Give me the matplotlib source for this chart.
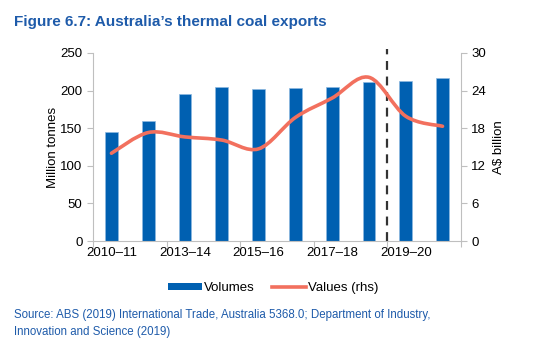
import numpy as np
import matplotlib
matplotlib.use("Agg")
import matplotlib.pyplot as plt
from matplotlib.path import Path
from matplotlib.patches import PathPatch
from matplotlib.lines import Line2D
from matplotlib.patches import Patch

plt.rcParams["font.family"] = ["Liberation Sans", "DejaVu Sans"]

# --- Data ---
years = ["2010–11", "2011–12", "2012–13", "2013–14", "2014–15",
         "2015–16", "2016–17", "2017–18", "2018–19", "2019–20"]
tick_labels = ["2010–11", "2013–14", "2015–16", "2017–18", "2019–20"]
volumes = [145, 160, 196, 205, 202, 203, 204, 211, 212, 216]   # Mt, lhs
values = [14.0, 17.3, 16.6, 16.1, 14.7, 19.7, 22.8, 26.1, 19.9, 18.3]  # A$b, rhs

BLUE = "#0060B1"
SALMON = "#F2705E"
GREY = "#BFBFBF"
TITLE_BLUE = "#1E5BAA"


def smooth_path(x, y):
    # Excel-style smoothed line: Catmull-Rom expressed as cubic Beziers
    pts = np.column_stack([x, y]).astype(float)
    verts = [pts[0]]
    codes = [Path.MOVETO]
    n = len(pts)
    for i in range(n - 1):
        p0 = pts[i - 1] if i > 0 else pts[i]
        p1, p2 = pts[i], pts[i + 1]
        p3 = pts[i + 2] if i + 2 < n else pts[i + 1]
        verts += [p1 + (p2 - p0) / 6, p2 - (p3 - p1) / 6, p2]
        codes += [Path.CURVE4] * 3
    return Path(verts, codes)


fig = plt.figure(figsize=(5.41, 3.41), dpi=100)
ax = fig.add_axes([0.172, 0.293, 0.68, 0.552])
ax2 = ax.twinx()

x = np.arange(len(years))
ax.bar(x, volumes, width=0.35, color=BLUE, edgecolor="#8DB8E0", linewidth=0.5, zorder=2)

ax2.add_patch(PathPatch(smooth_path(x, values), facecolor="none",
                        edgecolor=SALMON, linewidth=2.6, capstyle="round", zorder=3))

ax.set_xlim(-0.5, len(years) - 0.5)
ax.set_ylim(0, 250)
ax.set_yticks(range(0, 251, 50))
ax2.set_ylim(0, 30)
ax2.set_yticks(range(0, 31, 6))

# forecast divider
ax.axvline(7.5, ymin=0, ymax=1.02, color="#333333", linestyle=(0, (4, 3)),
           linewidth=1.6, clip_on=False, zorder=4)

# x ticks: marks every two categories, labels under every other bar
ax.set_xticks(np.arange(-0.5, len(years), 2))
ax.set_xticklabels([])
ax.set_xticks(x[::2], minor=True)
ax.set_xticklabels(tick_labels, minor=True)
ax.tick_params(axis="x", which="major", length=4, color=GREY, direction="out")
ax.tick_params(axis="x", which="minor", length=0, labelsize=9.5, pad=4)

for a in (ax, ax2):
    a.spines["top"].set_visible(False)
    for s in ("left", "right", "bottom"):
        a.spines[s].set_color(GREY)
    a.tick_params(axis="y", length=4, color=GREY, labelsize=9.5)
ax.spines["right"].set_visible(False)
ax2.spines["left"].set_visible(False)
ax2.spines["bottom"].set_visible(False)

ax.set_ylabel("Million tonnes", fontsize=9.5, labelpad=1)
ax2.set_ylabel("A$ billion", fontsize=9.5, labelpad=5)

fig.text(0.026, 0.935, "Figure 6.7: Australia\u2019s thermal coal exports",
         fontsize=11, fontweight="bold", color=TITLE_BLUE, va="center")

handles = [Patch(facecolor=BLUE, edgecolor="none"),
           Line2D([0], [0], color=SALMON, linewidth=2.6)]
fig.legend(handles, ["Volumes", "Values (rhs)"], loc="center",
           bbox_to_anchor=(0.505, 0.155), ncol=2, frameon=False, fontsize=9.5,
           handlelength=2.6, handleheight=0.5, handletextpad=0.15, columnspacing=1.3)

fig.text(0.026, 0.05,
         "Source: ABS (2019) International Trade, Australia 5368.0; Department of Industry,\n"
         "Innovation and Science (2019)",
         fontsize=8.3, color=TITLE_BLUE, va="center", linespacing=1.55)

fig.savefig("out.png", dpi=100)
